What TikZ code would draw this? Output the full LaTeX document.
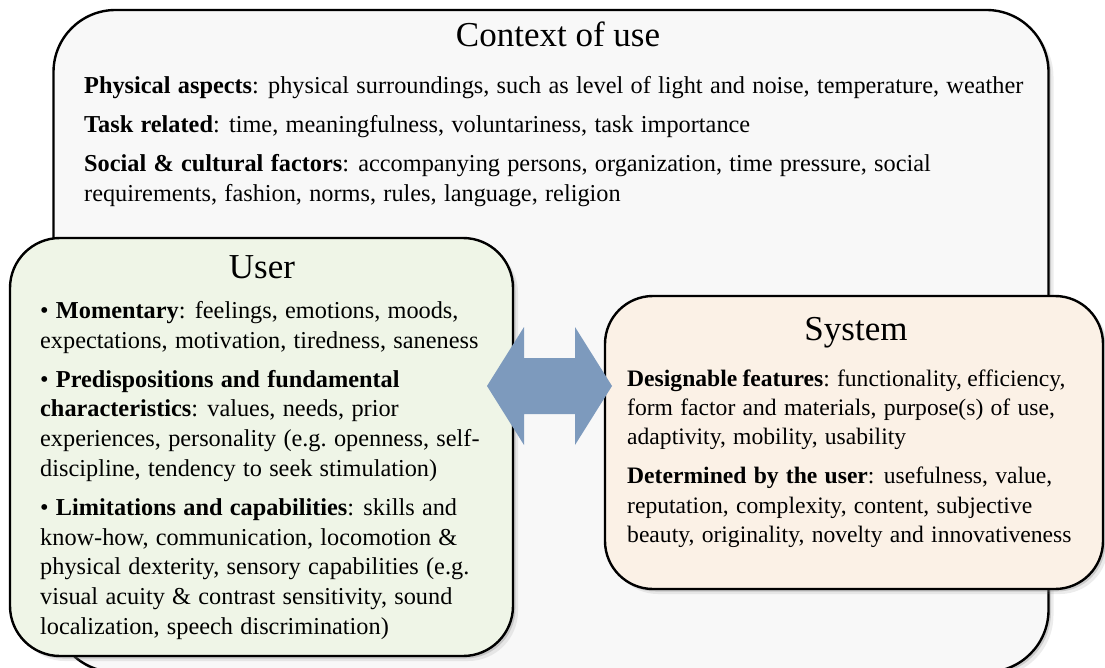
\documentclass[tikz,border=0pt]{standalone}
\usepackage{fontspec}
\setmainfont{Liberation Serif}
\usetikzlibrary{shadows}

\definecolor{ctxfill}{HTML}{F8F8F8}
\definecolor{usrfill}{HTML}{EFF5E7}
\definecolor{sysfill}{HTML}{FBF1E6}
\definecolor{linkblue}{HTML}{7D9ABD}

% body text: slightly wider word spacing
\newcommand\bodyfont{\fontsize{24.3}{29.7}\selectfont\spaceskip=0.3em\relax}

\begin{document}
\begin{tikzpicture}[x=1pt, y=-1pt,
    panel/.style={draw, line width=2.4pt, inner sep=0pt,
      drop shadow={shadow xshift=2.5pt, shadow yshift=-2.5pt, opacity=.3},
      drop shadow={shadow xshift=5pt, shadow yshift=-5pt, opacity=.15}},
    heading/.style={anchor=base, inner sep=0pt, font=\fontsize{35}{40}\selectfont},
    body/.style={anchor=north west, inner sep=0pt, align=left, font=\bodyfont}
  ]
  \useasboundingbox (0,0) rectangle (1105,668);

  % outer panel: context of use
  \node[panel, fill=ctxfill, rounded corners=62pt, minimum width=995pt, minimum height=662pt] (ctx) at (551,341) {};
  \node[heading] (ctxTitle) at (558,47) {Context of use};
  \node[body] (ctxText) at (84,76) {%
    \textbf{Physical aspects}: physical surroundings, such as level of light and noise, temperature, weather\\[9.5pt]
    \textbf{Task related}: time, meaningfulness, voluntariness, task importance\\[9.5pt]
    \textbf{Social \& cultural factors}: accompanying persons, organization, time pressure, social\\
    requirements, fashion, norms, rules, language, religion};

  % user panel
  \node[panel, fill=usrfill, rounded corners=50pt, minimum width=503pt, minimum height=418pt] (usr) at (261.5,447) {};
  \node[heading] (usrTitle) at (262,279) {User};
  \node[body] (usrText) at (40,301) {%
    • \textbf{Momentary}: feelings, emotions, moods,\\
    expectations, motivation, tiredness, saneness\\[9.5pt]
    • \textbf{Predispositions and fundamental}\\
    \textbf{characteristics}: values, needs, prior\\
    experiences, personality (e.g.\ openness, self-\\
    discipline, tendency to seek stimulation)\\[9.5pt]
    • \textbf{Limitations and capabilities}: skills and\\
    know-how, communication, locomotion \&\\
    physical dexterity, sensory capabilities (e.g.\\
    visual acuity \& contrast sensitivity, sound\\
    localization, speech discrimination)};

  % system panel (a touch smaller so the first line stays inside)
  \node[panel, fill=sysfill, rounded corners=48pt, minimum width=498pt, minimum height=293pt] (sys) at (854,442.5) {};
  \node[heading] (sysTitle) at (856,340) {System};
  \node[body, font=\bodyfont\fontsize{23.6}{29.3}\selectfont] (sysText) at (627,369.5) {%
    {\spaceskip=0.22em\relax\textbf{Designable features}: functionality, efficiency,}\\
    form factor and materials, purpose(s) of use,\\
    adaptivity, mobility, usability\\[9.5pt]
    \textbf{Determined by the user}: usefulness, value,\\
    reputation, complexity, content, subjective\\
    beauty, originality, novelty and innovativeness};

  % two-way block arrow between user and system
  \fill[linkblue] (487,386) -- (524,327) -- (524,358) -- (575,358) -- (575,327)
    -- (612,386) -- (575,445) -- (575,414) -- (524,414) -- (524,445) -- cycle;
\end{tikzpicture}
\end{document}
